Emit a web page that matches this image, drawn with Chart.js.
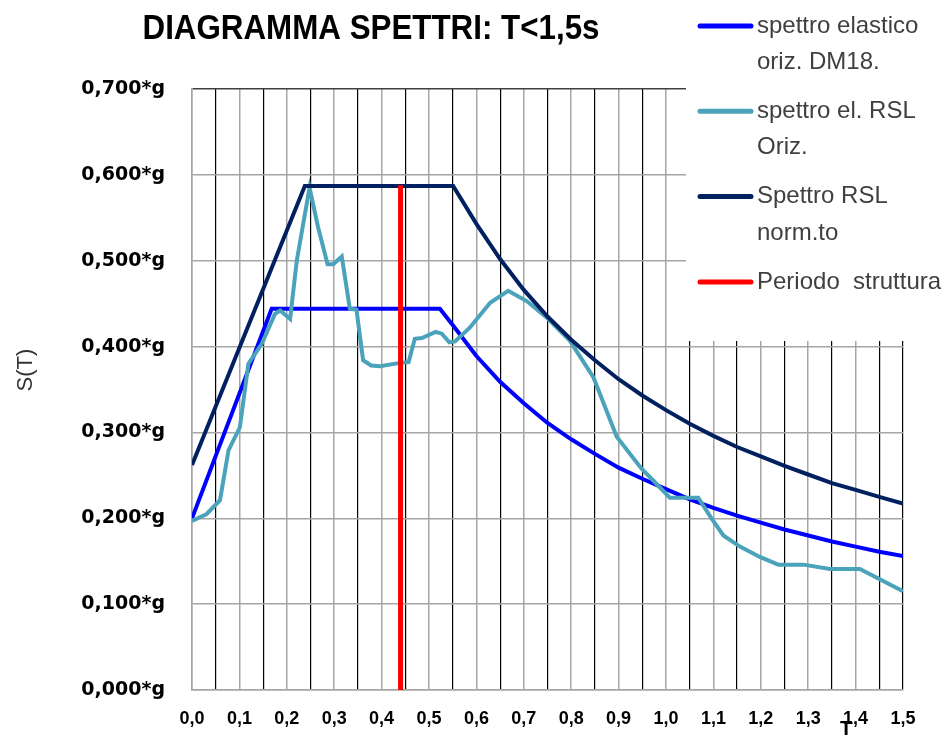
<!DOCTYPE html>
<html>
<head>
<meta charset="utf-8">
<script src="https://cdn.jsdelivr.net/npm/chart.js@4.4.0/dist/chart.umd.min.js"></script>
<style>
body { margin: 0; background: #fff; }
</style>
</head>
<body>
<canvas id="grafico" width="949" height="737"></canvas>
<script>
// dati
let titolo = 'DIAGRAMMA SPETTRI: T<1,5s'
let xTickLabels = ['0,0', '0,1', '0,2', '0,3', '0,4', '0,5', '0,6', '0,7', '0,8', '0,9', '1,0', '1,1', '1,2', '1,3', '1,4', '1,5']
let yTickLabels = ['0,000*g', '0,100*g', '0,200*g', '0,300*g', '0,400*g', '0,500*g', '0,600*g', '0,700*g']

let nomiSerie = [['spettro elastico', 'oriz. DM18.'], ['spettro el. RSL', 'Oriz.'], ['Spettro RSL', 'norm.to'], ['Periodo  struttura']]
let coloriSerie = ['#0000ff', '#4ba3bb', '#002060', '#ff0000']

let tElastico = [0, 0.168, 0.523, 0.55, 0.6, 0.65, 0.7, 0.75, 0.8, 0.85, 0.9, 0.95, 1.0, 1.05, 1.1, 1.15, 1.2, 1.25, 1.3, 1.35, 1.4, 1.45, 1.5]
let sElastico = [0.200, 0.444, 0.444, 0.425, 0.389, 0.359, 0.334, 0.311, 0.292, 0.275, 0.259, 0.246, 0.234, 0.222, 0.212, 0.203, 0.195, 0.187, 0.180, 0.173, 0.167, 0.161, 0.156]

let tRsl = [0, 0.031, 0.059, 0.077, 0.101, 0.119, 0.147, 0.175, 0.186, 0.207, 0.221, 0.248, 0.266, 0.286, 0.298, 0.316, 0.333, 0.347, 0.361, 0.378, 0.397, 0.439, 0.457, 0.470, 0.485, 0.514, 0.527, 0.543, 0.555, 0.586, 0.629, 0.667, 0.706, 0.748, 0.797, 0.847, 0.896, 0.948, 0.973, 1.008, 1.068, 1.096, 1.121, 1.156, 1.198, 1.237, 1.290, 1.346, 1.409, 1.5]
let sRsl = [0.197, 0.205, 0.221, 0.279, 0.306, 0.380, 0.403, 0.438, 0.442, 0.432, 0.500, 0.585, 0.539, 0.496, 0.496, 0.505, 0.444, 0.443, 0.384, 0.378, 0.377, 0.381, 0.382, 0.409, 0.410, 0.417, 0.415, 0.405, 0.406, 0.422, 0.451, 0.465, 0.453, 0.434, 0.407, 0.364, 0.295, 0.258, 0.244, 0.224, 0.224, 0.200, 0.180, 0.167, 0.155, 0.146, 0.146, 0.141, 0.141, 0.115]

let tNorm = [0, 0.238, 0.551, 0.6, 0.65, 0.7, 0.75, 0.8, 0.85, 0.9, 0.95, 1.0, 1.05, 1.1, 1.15, 1.2, 1.25, 1.3, 1.35, 1.4, 1.45, 1.5]
let sNorm = [0.262, 0.587, 0.587, 0.543, 0.502, 0.466, 0.435, 0.408, 0.384, 0.362, 0.343, 0.326, 0.310, 0.296, 0.283, 0.272, 0.261, 0.251, 0.241, 0.233, 0.225, 0.217]

let tPeriodo = [0.44, 0.44]
let sPeriodo = [0, 0.588]

let punti = function (t, s) {
    return t.map(function (v, i) { return { x: v, y: s[i] } })
}

let grigio = '#a6a6a6'

// riquadro bianco della legenda, titolo e testi
let cornice = {
    id: 'cornice',
    beforeDatasetsDraw(chart) {
        let ctx = chart.ctx
        ctx.save()
        ctx.fillStyle = '#fff'
        ctx.fillRect(686, 0, 263, 341)
        ctx.restore()
    },
    afterDraw(chart) {
        let ctx = chart.ctx
        ctx.save()
        ctx.fillStyle = '#000'
        ctx.textBaseline = 'middle'
        ctx.textAlign = 'center'
        // titolo stretto come nell'originale
        ctx.font = 'bold 35px "Liberation Sans"'
        ctx.fillText(titolo, 371, 29, 457)

        ctx.font = 'bold 20px "Liberation Sans"'
        ctx.textBaseline = 'top'
        ctx.fillText('T', 846, 719)

        ctx.save()
        ctx.translate(26, 370)
        ctx.rotate(-Math.PI / 2)
        ctx.font = '22px "Liberation Sans"'
        ctx.fillStyle = '#333'
        ctx.textBaseline = 'middle'
        ctx.fillText('S(T)', 0, 0)
        ctx.restore()

        // legenda
        ctx.textAlign = 'left'
        ctx.textBaseline = 'middle'
        ctx.font = '24px "Liberation Sans"'
        nomiSerie.forEach(function (righe, i) {
            let y = 26 + i * 85.3
            ctx.strokeStyle = coloriSerie[i]
            ctx.lineWidth = 5
            ctx.lineCap = 'round'
            ctx.beginPath()
            ctx.moveTo(700, y)
            ctx.lineTo(751, y)
            ctx.stroke()
            ctx.fillStyle = '#404040'
            righe.forEach(function (r, j) {
                ctx.fillText(r, 757, y + j * 36.5)
            })
        })
        ctx.restore()
    }
}

let miGrafico = new Chart('grafico', {
    type: 'scatter',
    data: {
        datasets: [
            { data: punti(tPeriodo, sPeriodo), borderColor: coloriSerie[3], borderWidth: 5, order: 0 },
            { data: punti(tNorm, sNorm), borderColor: coloriSerie[2], borderWidth: 4, order: 1 },
            { data: punti(tRsl, sRsl), borderColor: coloriSerie[1], borderWidth: 4, order: 2 },
            { data: punti(tElastico, sElastico), borderColor: coloriSerie[0], borderWidth: 4, order: 3 }
        ]
    },
    options: {
        responsive: false,
        devicePixelRatio: 1,
        animation: false,
        showLine: true,
        elements: {
            point: { radius: 0, hoverRadius: 0 },
            line: { tension: 0, fill: false }
        },
        layout: { padding: { top: 89, right: 46, left: 0, bottom: 0 } },
        plugins: {
            legend: { display: false },
            title: { display: false },
            tooltip: { enabled: false }
        },
        scales: {
            x: {
                type: 'linear',
                min: 0,
                max: 1.5,
                afterFit: function (scale) { scale.height = 47 },
                ticks: {
                    stepSize: 0.05,
                    autoSkip: false,
                    maxRotation: 0,
                    padding: 18,
                    color: '#000',
                    font: { family: '"Liberation Sans"', size: 18, weight: 'bold' },
                    callback: function (v, i) { return i % 2 === 0 ? xTickLabels[i / 2] : '' }
                },
                grid: {
                    drawTicks: false,
                    color: function (c) { return (c.index % 2 === 1 || c.index === 30) ? '#000' : grigio },
                    lineWidth: function (c) { return (c.index % 2 === 1 || c.index === 30) ? 1.2 : 1.5 }
                },
                border: { color: grigio, width: 1.5 }
            },
            y: {
                min: 0,
                max: 0.7,
                afterFit: function (scale) { scale.width = 192 },
                ticks: {
                    stepSize: 0.1,
                    padding: 27,
                    color: '#000',
                    font: { family: '"DejaVu Sans"', size: 19, weight: 'bold' },
                    callback: function (v, i) { return yTickLabels[i] }
                },
                grid: {
                    drawTicks: false,
                    color: function (c) { return c.index === 7 ? '#404040' : grigio },
                    lineWidth: 1.5
                },
                border: { color: grigio, width: 1.5 }
            }
        }
    },
    plugins: [cornice]
})
</script>
</body>
</html>
